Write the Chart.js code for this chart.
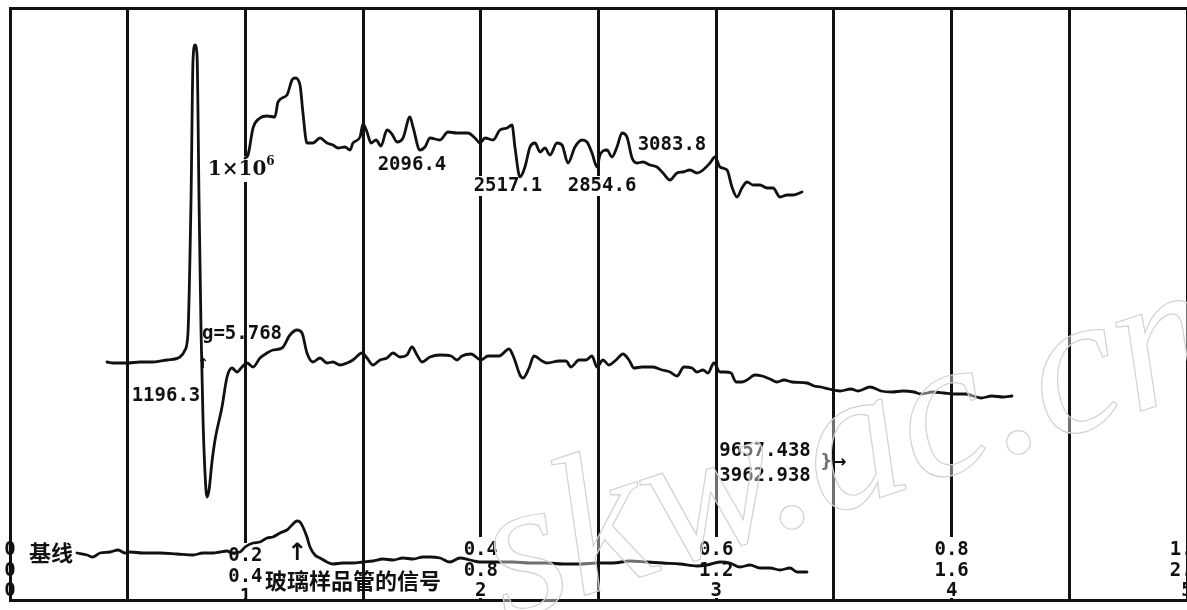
<!DOCTYPE html>
<html>
<head>
<meta charset="utf-8">
<title>EPR spectrum</title>
<script src="https://cdn.jsdelivr.net/npm/chart.js@4.4.1/dist/chart.umd.min.js"></script>
<style>
  html, body { margin: 0; padding: 0; background: #ffffff; }
  #wrap { width: 1187px; height: 610px; }
</style>
</head>
<body>
<div id="wrap"><canvas id="epr" width="1187" height="610"></canvas></div>
<script>
// Field axis readouts: three scales printed under every second division
const tickValues = [0, 0.2, 0.4, 0.6, 0.8, 1.0];
const tickRowA   = ['0', '0.2', '0.4', '0.6', '0.8', '1.0'];
const tickRowB   = ['0', '0.4', '0.8', '1.2', '1.6', '2.0'];
const tickRowC   = ['0', '1',   '2',   '3',   '4',   '5'];

// Expanded trace (gain 1×10^6): [field, signal]
const upperTrace = [
  [0.1997,442],[0.2022,445],[0.2065,472],[0.2124,482],[0.2184,484],[0.2251,483],[0.2277,498],
  [0.2353,505],[0.2396,520],[0.2421,522],[0.2464,515],[0.2489,487],[0.2523,457],[0.2574,457],
  [0.2634,462],[0.2693,457],[0.2744,455],[0.2787,452],[0.2846,453],[0.2889,450],[0.2914,457],
  [0.2974,463],[0.2999,476],[0.3033,468],[0.3067,457],[0.3110,460],[0.3152,454],[0.3203,470],
  [0.3245,466],[0.3288,458],[0.3339,462],[0.3398,483],[0.3424,473],[0.3483,450],[0.3526,453],
  [0.3568,462],[0.3653,460],[0.3721,468],[0.3798,467],[0.3891,467],[0.3951,462],[0.3993,457],
  [0.4036,462],[0.4104,460],[0.4163,470],[0.4223,472],[0.4265,475],[0.4291,452],[0.4333,423],
  [0.4375,433],[0.4418,453],[0.4461,457],[0.4503,448],[0.4545,452],[0.4588,445],[0.4647,457],
  [0.4690,455],[0.4741,437],[0.4800,453],[0.4860,460],[0.4902,458],[0.4945,447],[0.4987,433],
  [0.5013,445],[0.5072,450],[0.5115,443],[0.5157,453],[0.5200,467],[0.5242,463],[0.5285,442],
  [0.5327,437],[0.5378,438],[0.5438,435],[0.5497,433],[0.5548,427],[0.5607,420],[0.5667,427],
  [0.5718,428],[0.5777,430],[0.5837,427],[0.5888,430],[0.5947,437],[0.5990,443],[0.6032,433],
  [0.6092,430],[0.6134,413],[0.6177,403],[0.6219,412],[0.6262,418],[0.6313,415],[0.6372,415],
  [0.6432,412],[0.6483,412],[0.6542,403],[0.6602,405],[0.6653,405],[0.6729,408]
];

// Sample spectrum at normal gain
const middleTrace = [
  [0.0824,238],[0.0875,237],[0.0994,237],[0.1105,238],[0.1215,238],[0.1334,240],[0.1444,243],
  [0.1487,250],[0.1512,267],[0.1538,400],[0.1555,540],[0.1572,555],[0.1589,545],[0.1606,400],
  [0.1623,270],[0.1640,180],[0.1665,110],[0.1674,103],[0.1691,110],[0.1716,138],[0.1742,160],
  [0.1801,193],[0.1844,223],[0.1886,232],[0.1929,228],[0.1971,233],[0.2014,237],[0.2065,233],
  [0.2124,242],[0.2184,247],[0.2234,250],[0.2311,252],[0.2379,265],[0.2438,270],[0.2481,267],
  [0.2523,247],[0.2574,238],[0.2634,242],[0.2693,237],[0.2744,238],[0.2804,235],[0.2863,237],
  [0.2914,240],[0.2991,247],[0.3033,242],[0.3084,235],[0.3144,240],[0.3203,242],[0.3254,247],
  [0.3313,243],[0.3373,245],[0.3415,253],[0.3458,245],[0.3500,238],[0.3568,243],[0.3653,245],
  [0.3747,244],[0.3798,240],[0.3840,244],[0.3917,246],[0.4002,240],[0.4061,244],[0.4155,244],
  [0.4240,251],[0.4282,242],[0.4333,225],[0.4359,222],[0.4410,232],[0.4452,244],[0.4520,239],
  [0.4563,237],[0.4664,239],[0.4724,239],[0.4766,233],[0.4834,240],[0.4894,240],[0.4945,244],
  [0.4987,233],[0.5038,240],[0.5089,235],[0.5149,240],[0.5208,246],[0.5259,240],[0.5302,232],
  [0.5370,233],[0.5463,233],[0.5540,230],[0.5607,228],[0.5667,224],[0.5726,233],[0.5794,232],
  [0.5837,228],[0.5888,230],[0.5930,227],[0.5981,237],[0.6032,228],[0.6075,228],[0.6126,227],
  [0.6168,218],[0.6219,218],[0.6262,220],[0.6330,225],[0.6389,224],[0.6457,221],[0.6517,218],
  [0.6576,220],[0.6644,218],[0.6771,217],[0.6831,214],[0.6890,213],[0.6958,211],[0.7052,209],
  [0.7145,211],[0.7205,209],[0.7307,213],[0.7400,209],[0.7494,208],[0.7587,209],[0.7681,208],
  [0.7740,206],[0.7842,208],[0.7935,207],[0.8029,206],[0.8122,206],[0.8182,204],[0.8250,202],
  [0.8343,204],[0.8437,203],[0.8513,204]
];

// Baseline run with the empty glass sample tube
const baselineTrace = [
  [0.0569,47],[0.0654,45],[0.0705,43],[0.0765,47],[0.0850,48],[0.0918,50],[0.0977,47],
  [0.1020,48],[0.1130,47],[0.1274,47],[0.1419,46],[0.1555,45],[0.1640,47],[0.1725,47],
  [0.1784,48],[0.1844,49],[0.1886,47],[0.1954,48],[0.1997,53],[0.2065,57],[0.2124,58],
  [0.2184,62],[0.2234,63],[0.2294,67],[0.2353,70],[0.2396,75],[0.2438,79],[0.2464,78],
  [0.2489,73],[0.2523,63],[0.2549,53],[0.2591,45],[0.2634,42],[0.2693,38],[0.2744,36],
  [0.2829,37],[0.2914,37],[0.2999,38],[0.3084,39],[0.3169,41],[0.3254,40],[0.3339,42],
  [0.3424,41],[0.3509,43],[0.3568,43],[0.3653,42],[0.3738,38],[0.3823,42],[0.3908,40],
  [0.3993,38],[0.4138,38],[0.4274,38],[0.4418,37],[0.4562,37],[0.4698,36],[0.4843,36],
  [0.4987,37],[0.5123,37],[0.5268,39],[0.5412,38],[0.5548,37],[0.5692,36],[0.5837,34],
  [0.5922,35],[0.6032,38],[0.6117,37],[0.6202,33],[0.6287,35],[0.6372,32],[0.6457,32],
  [0.6542,30],[0.6627,32],[0.6687,28],[0.6771,28]
];

const ink = '#111111';
const monoFont = 'bold 19px "DejaVu Sans Mono", monospace';
const cjkFont = 'bold 22px "Noto Sans CJK SC", sans-serif';
const gainFont = 'bold 20px "DejaVu Serif", serif';

function traceDataset(points) {
  return {
    data: points.map(([x, y]) => ({ x, y })),
    borderColor: ink,
    borderWidth: 2.8,
    pointRadius: 0,
    fill: false,
    cubicInterpolationMode: 'monotone',
    borderJoinStyle: 'round',
    borderCapStyle: 'round'
  };
}

// Text, arrows and the axis readouts drawn inside the frame
const spectrumText = {
  id: 'spectrumText',
  beforeDatasetsDraw(chart, args, opts) {
    const { ctx, chartArea, scales: { x, y } } = chart;
    ctx.save();
    ctx.fillStyle = '#ffffff';
    // break the division lines where the readouts sit
    tickValues.forEach((v, i) => {
      if (i === 0 || i === tickValues.length - 1) return;
      const px = x.getPixelForValue(v);
      const top = chartArea.bottom + opts.rowOffsets[0] - 13 + (opts.columnShift[i] || 0);
      ctx.fillRect(px - 6, top, 12, chartArea.bottom - 2 - top);
    });
    ctx.font = monoFont;
    opts.notes.filter(n => n.mask).forEach(n => {
      const w = ctx.measureText(n.text).width;
      const px = x.getPixelForValue(n.x), py = y.getPixelForValue(n.y);
      ctx.fillRect(px - w / 2 - 2, py - 10, w + 4, 20);
    });
    // clear the division line behind the gain marker
    ctx.font = gainFont;
    const gw = ctx.measureText('1×10').width + 8;
    const gx = x.getPixelForValue(opts.gain.x), gy = y.getPixelForValue(opts.gain.y);
    ctx.fillRect(gx - gw / 2 - 2, gy - 14, gw + 4, 26);
    ctx.restore();
  },
  afterDatasetsDraw(chart, args, opts) {
    const { ctx, chartArea, scales: { x, y } } = chart;
    ctx.save();
    ctx.fillStyle = ink;
    ctx.textAlign = 'center';
    ctx.textBaseline = 'middle';

    // axis readouts
    ctx.font = monoFont;
    tickValues.forEach((v, i) => {
      const px = x.getPixelForValue(v);
      const shift = opts.columnShift[i] || 0;
      [tickRowA[i], tickRowB[i], tickRowC[i]].forEach((t, r) => {
        ctx.fillText(t, px, chartArea.bottom + opts.rowOffsets[r] + shift);
      });
    });

    // peak annotations
    opts.notes.forEach(n => {
      ctx.font = monoFont;
      ctx.textAlign = 'center';
      ctx.fillText(n.text, x.getPixelForValue(n.x), y.getPixelForValue(n.y));
    });

    // gain marker 1×10^6
    const g = opts.gain;
    const gx = x.getPixelForValue(g.x), gy = y.getPixelForValue(g.y);
    ctx.font = gainFont;
    ctx.textAlign = 'left';
    const base = '1×10';
    const bw = ctx.measureText(base).width;
    ctx.fillText(base, gx - (bw + 8) / 2, gy);
    ctx.font = 'bold 12px "DejaVu Serif", serif';
    ctx.fillText('6', gx - (bw + 8) / 2 + bw, gy - 8);

    // Chinese captions
    ctx.font = cjkFont;
    opts.captions.forEach(c => {
      ctx.textAlign = c.align;
      ctx.fillText(c.text, x.getPixelForValue(c.x), y.getPixelForValue(c.y));
    });

    // arrows
    opts.arrows.forEach(a => {
      ctx.font = a.font;
      ctx.textAlign = 'center';
      ctx.fillText(a.text, x.getPixelForValue(a.x), y.getPixelForValue(a.y));
    });
    ctx.restore();
  },
  afterDraw(chart, args, opts) {
    const { ctx } = chart;
    const w = opts.watermark;
    ctx.save();
    ctx.translate(w.left, w.bottom);
    ctx.rotate(w.angle);
    ctx.font = w.font;
    ctx.textAlign = 'left';
    ctx.textBaseline = 'alphabetic';
    ctx.fillStyle = 'rgba(255,255,255,0.4)';
    ctx.fillText(w.text, 0, 0);
    ctx.strokeStyle = '#d2d2d2';
    ctx.lineWidth = 1.2;
    ctx.strokeText(w.text, 0, 0);
    ctx.restore();
  }
};

new Chart(document.getElementById('epr'), {
  type: 'line',
  data: {
    datasets: [
      traceDataset(upperTrace),
      traceDataset(middleTrace),
      traceDataset(baselineTrace)
    ]
  },
  plugins: [spectrumText],
  options: {
    responsive: false,
    animation: false,
    events: [],
    layout: { padding: { left: 10, top: 8, right: 0, bottom: 10 } },
    plugins: {
      legend: { display: false },
      tooltip: { enabled: false },
      spectrumText: {
        rowOffsets: [-50, -29, -9],
        columnShift: { 1: 6 },
        notes: [
          { text: '1196.3',   x: 0.1325, y: 204 },
          { text: 'g=5.768',  x: 0.1971, y: 266 },
          { text: '2096.4',   x: 0.3415, y: 435 },
          { text: '2517.1',   x: 0.4231, y: 414, mask: true },
          { text: '2854.6',   x: 0.5030, y: 414, mask: true },
          { text: '3083.8',   x: 0.5624, y: 455 },
          { text: '9657.438', x: 0.6415, y: 149 },
          { text: '3962.938', x: 0.6415, y: 124 }
        ],
        gain: { x: 0.1963, y: 430 },
        captions: [
          { text: '基线', x: 0.0348, y: 47, align: 'center' },
          { text: '玻璃样品管的信号', x: 0.2167, y: 19, align: 'left' }
        ],
        arrows: [
          { text: '↑', x: 0.2438, y: 46, font: 'bold 24px "DejaVu Sans", sans-serif' },
          { text: '↑', x: 0.1640, y: 236, font: 'bold 14px "DejaVu Sans", sans-serif' },
          { text: '}→', x: 0.6996, y: 137, font: 'bold 17px "DejaVu Sans", sans-serif' }
        ],
        watermark: {
          text: 'skw.ac.cn',
          left: 505, bottom: 622, angle: -0.32,
          font: 'italic 200px "Liberation Serif", serif'
        }
      }
    },
    scales: {
      x: {
        type: 'linear', min: 0, max: 1,
        ticks: { display: false, stepSize: 0.1 },
        grid: { color: ink, lineWidth: 3, drawTicks: false },
        border: { display: true, color: ink, width: 3 },
        afterFit(s) { s.height = 0; }
      },
      xTop: {
        type: 'linear', position: 'top', min: 0, max: 1,
        ticks: { display: false },
        grid: { display: false, drawTicks: false },
        border: { display: true, color: ink, width: 3 },
        afterFit(s) { s.height = 0; }
      },
      y: {
        type: 'linear', min: 0, max: 592,
        ticks: { display: false },
        grid: { display: false, drawTicks: false },
        border: { display: true, color: ink, width: 3 },
        afterFit(s) { s.width = 0; }
      }
    }
  }
});
</script>
</body>
</html>
